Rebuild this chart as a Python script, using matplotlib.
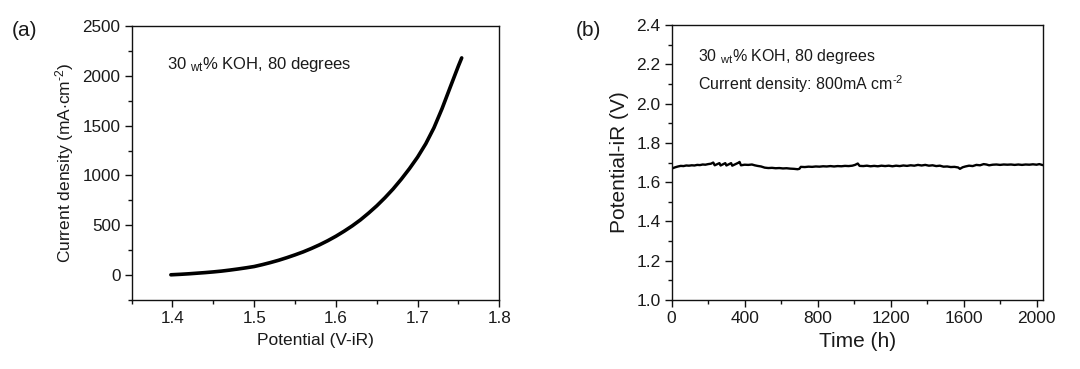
import matplotlib
matplotlib.use("Agg")
import matplotlib.pyplot as plt
from matplotlib.ticker import MultipleLocator

plt.rcParams['font.family'] = ['Liberation Sans', 'DejaVu Sans']
plt.rcParams['mathtext.fontset'] = 'custom'
plt.rcParams['mathtext.rm'] = 'Liberation Sans'
plt.rcParams['mathtext.it'] = 'Liberation Sans:italic'
plt.rcParams['mathtext.bf'] = 'Liberation Sans:bold'

# ---- Panel (a): polarization curve ----
potential_v = [1.398, 1.41, 1.42, 1.43, 1.44, 1.45, 1.46, 1.47, 1.48, 1.49,
               1.50, 1.51, 1.52, 1.53, 1.54, 1.55, 1.56, 1.57, 1.58, 1.59,
               1.60, 1.61, 1.62, 1.63, 1.64, 1.65, 1.66, 1.67, 1.68, 1.69,
               1.70, 1.71, 1.72, 1.73, 1.74, 1.75, 1.754]
current_ma = [3, 8, 13, 19, 25, 32, 40, 50, 61, 73,
              86, 105, 126, 149, 175, 203, 233, 267, 304, 345,
              390, 440, 494, 554, 622, 695, 776, 864, 962, 1068,
              1184, 1318, 1478, 1672, 1887, 2100, 2180]
a_xticks = [1.4, 1.5, 1.6, 1.7, 1.8]
a_yticks = [0, 500, 1000, 1500, 2000, 2500]

# ---- Panel (b): stability test ----
time_h = [0, 8, 20, 35, 50, 65, 80, 95, 110, 125, 140, 155, 170, 185, 200, 215,
          228, 236, 262, 268, 294, 300, 326, 332, 366, 372, 380, 400, 420, 440,
          455, 470, 490, 510, 530, 550, 570, 590, 610, 630, 650, 670, 690, 700,
          708, 730, 750, 770, 790, 810, 830, 850, 870, 890, 910, 930, 950, 970,
          990, 1005, 1020, 1030, 1050, 1070, 1090, 1110, 1130, 1150, 1170, 1190,
          1210, 1230, 1250, 1270, 1290, 1310, 1330, 1350, 1370, 1390, 1410, 1430,
          1450, 1470, 1490, 1510, 1530, 1550, 1570, 1580, 1595, 1610, 1630, 1650,
          1670, 1690, 1710, 1725, 1740, 1760, 1780, 1800, 1820, 1840, 1860, 1880,
          1900, 1920, 1940, 1960, 1980, 2000, 2015, 2030]
potential_ir = [1.668, 1.672, 1.676, 1.680, 1.683, 1.682, 1.685, 1.684, 1.686, 1.685,
                1.688, 1.687, 1.690, 1.689, 1.692, 1.694, 1.700, 1.686, 1.697, 1.685,
                1.697, 1.685, 1.697, 1.684, 1.699, 1.703, 1.686, 1.689, 1.688, 1.690,
                1.686, 1.683, 1.680, 1.674, 1.672, 1.673, 1.671, 1.672, 1.670, 1.671,
                1.669, 1.668, 1.666, 1.668, 1.678, 1.677, 1.679, 1.678, 1.680, 1.679,
                1.681, 1.680, 1.682, 1.680, 1.682, 1.681, 1.683, 1.682, 1.684, 1.688,
                1.695, 1.683, 1.682, 1.684, 1.681, 1.683, 1.681, 1.684, 1.682, 1.684,
                1.681, 1.684, 1.682, 1.685, 1.683, 1.686, 1.684, 1.688, 1.685, 1.688,
                1.684, 1.686, 1.682, 1.684, 1.679, 1.680, 1.677, 1.678, 1.675, 1.668,
                1.676, 1.680, 1.684, 1.682, 1.688, 1.686, 1.692, 1.690, 1.686, 1.689,
                1.690, 1.688, 1.690, 1.689, 1.690, 1.688, 1.690, 1.688, 1.690, 1.689,
                1.691, 1.689, 1.692, 1.688]
b_xticks = [0, 400, 800, 1200, 1600, 2000]
b_yticks = [1.0, 1.2, 1.4, 1.6, 1.8, 2.0, 2.2, 2.4]

fig = plt.figure(figsize=(10.8, 3.69), dpi=100)
ax1 = fig.add_axes([0.1219, 0.187, 0.3404, 0.7425])
ax2 = fig.add_axes([0.6219, 0.187, 0.3438, 0.7450])

TXT = '#1a1a1a'

def style(ax, fs):
    for s in ax.spines.values():
        s.set_linewidth(1.0)
        s.set_color('#111111')
    ax.tick_params(which='both', direction='out', top=False, right=False,
                   colors='#111111', labelcolor=TXT, labelsize=fs, width=1.0)
    ax.tick_params(which='major', length=5, pad=3)
    ax.tick_params(which='minor', length=3)

# Panel (a)
ax1.plot(potential_v, current_ma, color='black', lw=2.6, solid_capstyle='round')
ax1.set_xlim(1.35, 1.8)
ax1.set_ylim(-250, 2500)
ax1.set_xticks(a_xticks)
ax1.set_xticklabels([f'{v:.1f}' for v in a_xticks])
ax1.set_yticks(a_yticks)
ax1.xaxis.set_minor_locator(MultipleLocator(0.05))
ax1.yaxis.set_minor_locator(MultipleLocator(250))
style(ax1, 12.3)
ax1.set_xlabel('Potential (V-iR)', fontsize=12.5, color=TXT, labelpad=5)
ax1.set_ylabel(r'Current density (mA$\cdot$cm$^{\text{-2}}$)', fontsize=12.5,
               color=TXT, labelpad=5)
ax1.text(0.095, 0.86, r'30 $_{\mathregular{wt}}$% KOH, 80 degrees', transform=ax1.transAxes,
         fontsize=12, color=TXT, va='center', ha='left')

# Panel (b)
ax2.plot(time_h, potential_ir, color='black', lw=1.7)
ax2.set_xlim(0, 2035)
ax2.set_ylim(1.0, 2.4)
ax2.set_xticks(b_xticks)
ax2.set_yticks(b_yticks)
ax2.set_yticklabels([f'{v:.1f}' for v in b_yticks])
ax2.xaxis.set_minor_locator(MultipleLocator(200))
ax2.yaxis.set_minor_locator(MultipleLocator(0.1))
style(ax2, 12.5)
ax2.set_xlabel('Time (h)', fontsize=15, color=TXT, labelpad=4)
ax2.set_ylabel('Potential-iR (V)', fontsize=15, color=TXT, labelpad=5)
ax2.text(0.07, 0.885, r'30 $_{\mathregular{wt}}$% KOH, 80 degrees', transform=ax2.transAxes,
         fontsize=11.5, color=TXT, va='center', ha='left')
ax2.text(0.07, 0.785, r'Current density: 800mA cm$^{\text{-2}}$', transform=ax2.transAxes,
         fontsize=11.5, color=TXT, va='center', ha='left')

fig.text(12 / 1080, 1 - 30 / 369, '(a)', fontsize=15, color=TXT, va='center', ha='left')
fig.text(576 / 1080, 1 - 31 / 369, '(b)', fontsize=15, color=TXT, va='center', ha='left')

fig.savefig('out.png', dpi=100, facecolor='white')
